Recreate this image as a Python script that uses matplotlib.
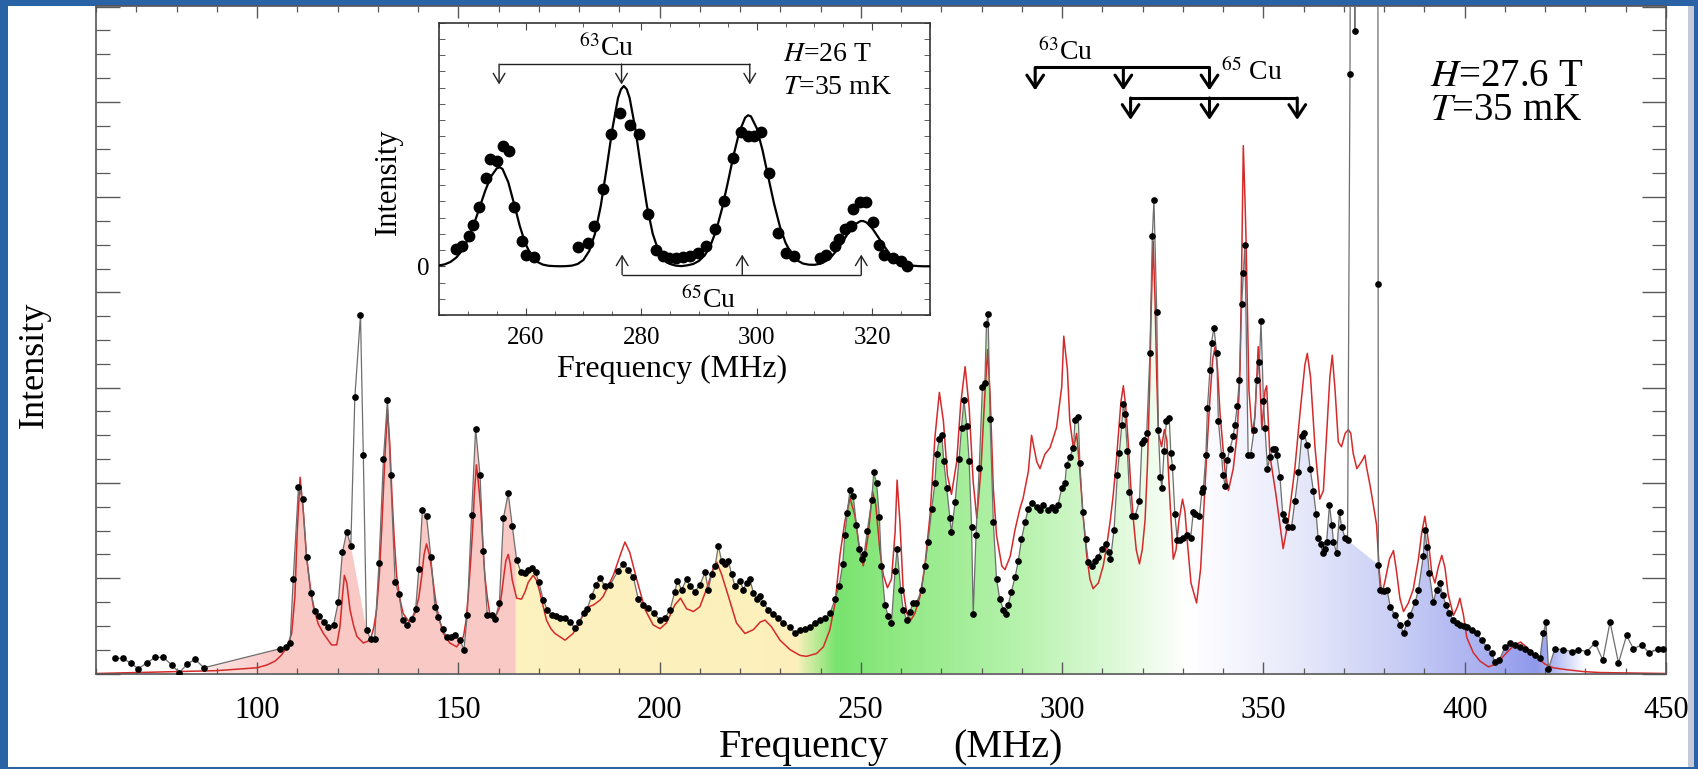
import matplotlib.pyplot as plt
import numpy as np
from matplotlib.patches import Polygon, Rectangle
from matplotlib.ticker import MultipleLocator, FixedLocator

plt.rcParams['font.family'] = ['Liberation Serif', 'DejaVu Serif']
plt.rcParams['mathtext.fontset'] = 'stix'

# ---- main spectrum, H = 27.6 T (measured points) ----
main_freq = [
    64.7, 66.6, 68.6, 70.5, 72.6, 74.7, 76.7, 78.8, 80.7, 82.7,
    84.6, 86.8, 105.7, 107.2, 108.2, 109.0, 110.3, 111.3, 112.3, 113.3,
    114.4, 115.5, 116.6, 117.7, 119.0, 120.2, 121.2, 122.3, 123.3, 124.3,
    125.7, 126.4, 127.2, 128.2, 129.2, 130.3, 131.4, 132.4, 133.2, 134.3,
    135.3, 136.2, 137.2, 138.4, 139.4, 140.2, 141.1, 142.1, 143.2, 144.2,
    145.0, 146.1, 147.1, 148.2, 149.2, 150.4, 151.4, 152.2, 153.3, 154.3,
    155.4, 156.2, 157.2, 158.3, 159.1, 160.2, 161.2, 162.4, 163.4, 164.5,
    165.5, 166.6, 167.4, 168.2, 169.2, 170.0, 171.1, 172.1, 173.2, 174.3,
    175.3, 176.5, 177.7, 178.9, 180.0, 181.1, 182.0, 183.1, 184.2, 185.2,
    186.4, 187.7, 189.7, 191.0, 192.2, 193.5, 194.7, 196.0, 197.2, 198.6,
    200.1, 201.3, 202.6, 203.8, 204.4, 205.5, 206.7, 207.5, 208.8, 210.0,
    211.3, 212.1, 212.9, 213.8, 214.6, 215.4, 216.2, 217.1, 217.9, 218.7,
    220.0, 220.8, 221.6, 222.4, 223.3, 224.1, 225.0, 225.8, 227.0, 228.2,
    229.5, 230.7, 232.4, 233.6, 234.9, 236.1, 237.3, 238.6, 239.8, 241.1,
    242.3, 243.6, 244.6, 245.5, 246.0, 246.6, 247.3, 248.1, 248.9, 249.6,
    250.2, 250.8, 251.6, 252.7, 253.2, 253.9, 254.6, 255.1, 256.0, 256.8,
    257.6, 258.5, 259.0, 259.9, 260.5, 261.4, 262.2, 263.0, 263.8, 265.1,
    265.9, 266.7, 267.6, 268.4, 268.8, 269.5, 270.1, 270.6, 271.3, 272.1,
    272.5, 273.4, 274.4, 275.0, 275.6, 276.3, 276.9, 277.5, 277.9, 278.6,
    279.4, 280.2, 280.8, 281.2, 281.6, 282.1, 282.9, 283.7, 284.5, 285.4,
    286.0, 286.6, 287.4, 288.3, 289.1, 289.9, 290.8, 291.6, 292.4, 293.7,
    294.5, 295.3, 296.5, 297.4, 298.2, 299.0, 299.9, 300.7, 301.1, 301.9,
    302.8, 303.2, 304.0, 304.4, 305.1, 305.8, 306.5, 307.3, 308.1, 309.0,
    309.8, 310.9, 311.7,
    312.0, 312.9, 313.7, 314.2, 314.8, 315.2, 315.6, 316.2, 316.7, 317.3,
    318.1, 319.2, 319.8, 320.3, 321.0, 321.8, 322.4, 322.8, 323.5, 323.9,
    324.4, 324.8, 325.3, 325.9, 326.6, 327.0, 327.4, 328.0, 328.6, 329.3,
    330.1, 331.1, 331.9, 332.6, 333.0, 334.1, 334.7, 335.1, 335.7, 336.1,
    336.7, 337.1, 337.7, 338.4, 338.8, 339.6, 340.0, 340.5, 341.0, 341.7,
    342.5, 342.9, 343.5, 344.0, 344.6, 345.0, 345.4, 346.2, 346.8, 347.7,
    348.3, 349.0, 349.4, 350.0, 350.4, 351.0, 351.6, 352.3, 352.9, 353.3,
    354.1, 354.8, 355.4, 356.2, 357.0, 357.8, 358.7, 359.5, 360.1, 360.9,
    361.6, 362.4, 363.1, 363.6, 364.2, 364.7, 365.3, 365.7, 366.4, 367.0,
    367.4, 368.2, 368.9, 369.4, 370.3, 370.9,
    371.5, 372.0, 372.7, 372.9, 378.3, 378.5,
    378.55, 379.0, 379.9, 380.7, 381.5, 382.7, 384.0, 384.8, 385.6, 386.4,
    387.7, 388.5, 389.7, 390.1, 390.6, 391.2, 392.2, 393.0, 393.9, 394.5,
    395.4, 396.2, 397.2, 398.0, 398.8, 399.7, 400.5, 401.7, 403.0, 404.2,
    405.5, 406.7, 407.5, 408.6, 410.0, 411.3, 412.5, 413.7, 415.0, 416.2,
    417.5, 418.7, 419.5, 420.2, 420.8, 422.4, 424.5, 426.6, 428.2, 430.3,
    432.4, 434.3, 436.1, 438.2, 440.2, 441.9, 444.0, 445.9, 447.9, 449.3,
]
main_int = [
    0.16, 0.16, 0.11, 0.05, 0.11, 0.17, 0.17, 0.09, 0.01, 0.10,
    0.15, 0.06, 0.26, 0.28, 0.32, 0.99, 1.96, 1.83, 1.22, 0.85,
    0.66, 0.60, 0.54, 0.49, 0.51, 0.75, 1.27, 1.49, 1.34, 2.90,
    3.76, 2.29, 0.46, 0.36, 0.36, 1.16, 2.25, 2.87, 2.08, 0.96,
    0.83, 0.56, 0.51, 0.57, 0.68, 1.10, 1.72, 1.65, 1.22, 0.70,
    0.59, 0.47, 0.38, 0.38, 0.40, 0.35, 0.25, 0.61, 1.66, 2.57,
    2.08, 1.29, 0.61, 0.61, 0.57, 0.74, 1.63, 1.89, 1.55, 1.19,
    1.07, 1.05, 1.09, 1.11, 1.06, 0.96, 0.77, 0.67, 0.61, 0.60,
    0.58, 0.58, 0.54, 0.48, 0.54, 0.63, 0.68, 0.81, 0.93, 1.00,
    0.92, 0.93, 1.08, 1.15, 1.09, 1.01, 0.78, 0.72, 0.69, 0.63,
    0.56, 0.58, 0.67, 0.86, 0.97, 0.88, 0.99, 0.92, 0.86, 0.93,
    1.06, 0.88, 1.04, 1.13, 1.34, 1.18, 1.15, 1.18, 1.04, 0.92,
    0.97, 0.88, 0.95, 0.99, 0.85, 0.78, 0.81, 0.74, 0.67, 0.62,
    0.58, 0.53, 0.49, 0.42, 0.46, 0.47, 0.49, 0.53, 0.56, 0.58,
    0.63, 0.78, 0.92, 1.15, 1.45, 1.68, 1.93, 1.86, 1.56, 1.31,
    1.20, 1.25, 1.50, 1.82, 2.11, 2.00, 1.64, 1.13, 0.72, 0.60,
    0.53, 1.08, 1.31, 0.88, 0.67, 0.56, 0.65, 0.74, 0.74, 0.88,
    1.13, 1.38, 1.73, 2.00, 2.30, 2.46, 2.50, 2.23, 1.95, 1.63,
    1.48, 1.80, 2.25, 2.58, 2.87, 2.60, 2.23, 1.54, 0.62, 1.45,
    2.16, 3.01, 3.05, 3.67, 3.77, 2.67, 1.59, 0.99, 0.78, 0.67,
    0.62, 0.72, 0.86, 1.01, 1.18, 1.41, 1.59, 1.73, 1.79, 1.75,
    1.72, 1.77, 1.72, 1.75, 1.72, 1.77, 1.95, 2.00, 2.19, 2.27,
    2.37, 2.66, 2.69, 2.21, 1.70, 1.41, 1.17, 1.13, 1.18, 1.22,
    1.31, 1.36, 1.27,
    1.20, 1.51, 2.08, 2.31, 2.61, 2.83, 2.72, 2.33, 1.90, 1.65,
    1.65, 1.81, 2.42, 2.45, 2.52, 3.36, 4.59, 4.97, 3.79, 2.56,
    2.06, 1.95, 2.33, 2.65, 2.68, 2.31, 2.17, 1.67, 1.40, 1.40,
    1.42, 1.45, 1.42, 1.70, 1.67, 1.65, 1.90, 1.95, 2.29, 2.79,
    3.18, 3.47, 3.63, 3.36, 2.65, 2.29, 2.08, 1.97, 2.24, 2.36,
    2.49, 2.61, 2.81, 3.08, 3.88, 4.20, 4.50, 2.29, 2.29, 2.56,
    3.08, 3.27, 3.70, 2.86, 2.58, 2.15, 2.27, 2.36, 2.36, 2.29,
    2.06, 1.67, 1.61, 1.54, 1.54, 1.81, 2.11, 2.49, 2.52, 2.40,
    2.15, 1.92, 1.67, 1.42, 1.36, 1.26, 1.31, 1.38, 1.77, 1.56,
    1.38, 1.26, 1.70, 1.54, 1.42, 1.40,
    6.29, 14.0, 6.74, 14.0, 14.0, 4.09,
    1.14, 0.88, 0.87, 0.88, 0.70, 0.61, 0.51, 0.42, 0.53, 0.61,
    0.75, 0.88, 1.23, 1.51, 1.33, 1.05, 0.75, 0.88, 0.95, 0.82,
    0.72, 0.63, 0.56, 0.53, 0.51, 0.50, 0.49, 0.46, 0.42, 0.35,
    0.28, 0.21, 0.12, 0.14, 0.28, 0.32, 0.30, 0.28, 0.26, 0.23,
    0.19, 0.16, 0.42, 0.54, 0.05, 0.26, 0.25, 0.23, 0.25, 0.23,
    0.32, 0.14, 0.54, 0.11, 0.40, 0.26, 0.30, 0.21, 0.26, 0.26,
]

# ---- simulated spectrum (red) ----
sim_freq = [
    60.0, 70.0, 80.0, 90.0, 100.0, 102.5, 104.5, 106.0, 107.5, 108.6,
    109.4, 110.0, 110.7, 111.5, 112.3, 113.2, 114.0, 115.2, 116.5, 118.5,
    119.8, 120.6, 121.2, 121.7, 122.3, 123.1, 124.0, 124.8, 126.4, 128.1,
    129.0, 129.7, 130.4, 131.0, 131.8, 132.4, 133.0, 133.5, 134.1, 134.7,
    135.5, 136.3, 137.8, 139.2, 140.2, 140.9, 141.5, 142.1, 142.8, 143.4,
    144.0, 144.6, 145.4, 146.3, 147.9, 149.6, 151.3, 151.9, 152.5, 153.1,
    153.6, 154.0, 154.5, 155.0, 155.6, 156.1, 156.6, 157.2, 157.8, 159.1,
    160.3, 160.8, 161.3, 161.8, 162.4, 162.9, 163.4, 164.5, 165.7, 166.6,
    167.4, 168.6, 169.4, 170.1, 171.0, 171.9, 173.0, 174.0, 176.5, 178.5,
    180.0, 181.1, 182.4, 183.6, 185.2,
    186.0, 188.5, 190.2, 191.4, 192.6, 194.3, 196.4, 198.4, 200.1, 201.7,
    203.8, 205.2, 206.7, 208.4, 210.0, 211.7, 213.3, 214.2, 215.4, 217.1,
    219.1, 221.2, 223.3, 225.0, 226.2, 227.8, 229.9, 232.4, 234.9, 236.5,
    239.0, 240.7, 242.3, 243.6, 244.8, 246.0, 247.3, 248.5, 249.8, 250.6,
    251.8, 252.9, 253.7, 254.7, 255.6, 256.6, 257.6, 258.5, 259.0, 259.7,
    260.5, 261.4, 262.4, 263.4, 264.7, 265.9, 267.2, 268.4, 269.5, 270.5,
    271.5, 272.5, 273.8, 274.8, 275.9, 276.9, 277.9, 278.8, 279.8, 280.8,
    281.5, 282.1, 282.9, 283.7, 285.0, 285.8, 287.1, 288.3, 289.5, 290.3,
    291.6, 292.4, 293.7, 294.5, 295.7, 297.0, 298.6, 299.9, 300.4, 301.3,
    301.9, 302.8, 303.6, 304.4, 305.2, 306.1, 306.9, 307.7, 309.0, 310.2,
    311.1,
    312.0, 312.7, 313.4, 314.0, 314.6, 315.2, 315.8, 316.4, 317.0, 317.7,
    318.4, 319.2, 319.9, 320.6, 321.2, 321.7, 322.1, 322.6, 323.1, 323.5,
    323.9, 324.7, 325.4, 326.0, 326.8, 327.6, 328.3, 329.0, 329.9, 330.5,
    331.1, 332.0, 333.4, 334.4, 335.5, 336.1, 336.7, 337.4, 338.0, 338.6,
    339.2, 340.4, 341.3, 342.5, 343.5, 344.2, 344.6, 345.0, 345.4, 345.7,
    346.4, 347.2, 347.9, 348.7, 349.2, 349.6, 350.4, 350.8, 351.6, 353.1,
    354.1, 354.9, 356.2, 357.8, 359.1, 360.3, 360.9, 361.7, 362.8, 364.0,
    364.9, 365.7, 366.5, 367.1, 367.8, 368.6, 369.4, 370.3, 371.1, 371.7,
    372.3, 373.2, 374.0, 374.6, 375.2, 375.6, 376.5, 377.3, 378.1, 378.8,
    379.4, 380.2, 381.3, 382.3, 383.1, 383.9, 384.8, 386.0, 387.2, 388.5,
    389.3, 390.1, 391.0, 391.8, 392.6, 393.4, 394.3, 395.1, 395.9, 397.2,
    398.2, 398.8, 399.7, 400.5, 402.1, 403.8, 405.9, 407.9, 410.0, 412.1,
    413.9, 415.8, 417.9, 419.9, 422.0, 425.3, 429.5, 433.6, 450.0,
]
sim_int = [
    0.00, 0.01, 0.02, 0.03, 0.06, 0.09, 0.13, 0.19, 0.28, 0.42,
    0.80, 1.50, 2.06, 1.70, 1.23, 0.92, 0.70, 0.52, 0.42, 0.30,
    0.30, 0.49, 0.80, 1.03, 0.95, 0.67, 0.50, 0.39, 0.32, 0.35,
    0.48, 0.67, 1.05, 1.54, 2.30, 2.77, 2.40, 1.89, 1.40, 1.02,
    0.78, 0.63, 0.54, 0.63, 0.80, 1.02, 1.25, 1.36, 1.25, 1.09,
    0.88, 0.70, 0.55, 0.42, 0.32, 0.28, 0.39, 0.55, 0.84, 1.20,
    1.54, 1.90, 2.19, 2.00, 1.72, 1.35, 1.02, 0.80, 0.63, 0.58,
    0.70, 0.85, 1.02, 1.18, 1.25, 1.15, 0.98, 0.79, 0.78, 0.86,
    0.96, 1.03, 0.98, 0.88, 0.72, 0.56, 0.47, 0.42, 0.35, 0.42,
    0.52, 0.63, 0.70, 0.72, 0.77,
    0.81, 1.03, 1.24, 1.38, 1.27, 0.99, 0.67, 0.51, 0.47, 0.53,
    0.72, 0.79, 0.68, 0.65, 0.70, 0.89, 1.10, 1.17, 1.04, 0.81,
    0.53, 0.42, 0.46, 0.54, 0.56, 0.49, 0.35, 0.25, 0.19, 0.18,
    0.21, 0.28, 0.46, 0.74, 1.24, 1.59, 1.84, 1.66, 1.27, 1.13,
    1.45, 1.91, 1.77, 1.30, 1.03, 0.90, 0.99, 1.48, 2.03, 1.59,
    0.89, 0.63, 0.56, 0.63, 0.81, 1.13, 1.67, 2.48, 2.95, 2.65,
    2.08, 1.88, 2.22, 2.83, 3.22, 2.79, 2.01, 1.63, 2.12, 2.93,
    3.40, 2.93, 1.94, 1.45, 1.13, 1.09, 1.23, 1.51, 1.73, 1.84,
    2.12, 2.50, 2.22, 2.15, 2.30, 2.37, 2.58, 3.01, 3.54, 3.19,
    2.65, 2.36, 2.52, 2.12, 1.66, 1.24, 0.99, 0.89, 0.95, 1.13,
    1.35,
    1.62, 1.88, 2.20, 2.52, 2.85, 3.02, 2.80, 2.43, 2.00, 1.61,
    1.30, 1.15, 1.30, 1.61, 2.20, 2.97, 3.80, 4.54, 3.88, 3.10,
    2.52, 2.38, 2.56, 2.45, 1.80, 1.20, 1.30, 1.60, 1.83, 1.70,
    1.38, 0.95, 0.74, 1.10, 1.97, 2.45, 2.88, 3.30, 3.43, 3.20,
    2.74, 2.15, 1.92, 2.15, 2.52, 3.20, 4.30, 5.54, 5.00, 4.52,
    2.97, 2.52, 2.70, 3.43, 3.00, 2.56, 2.97, 3.02, 2.29, 1.88,
    1.56, 1.31, 1.61, 2.15, 2.74, 3.24, 3.36, 3.11, 2.38, 1.83,
    1.92, 2.52, 3.11, 3.34, 2.97, 2.43, 2.38, 2.52, 2.56, 2.52,
    2.31, 2.15, 2.20, 2.24, 2.29, 2.17, 1.97, 1.77, 1.56, 1.06,
    0.83, 0.97, 1.20, 1.29, 1.06, 0.79, 0.65, 0.74, 0.88, 1.20,
    1.47, 1.65, 1.38, 1.06, 0.95, 1.11, 1.24, 1.11, 0.83, 0.61,
    0.70, 0.79, 0.61, 0.38, 0.22, 0.13, 0.07, 0.10, 0.20, 0.29,
    0.33, 0.26, 0.17, 0.10, 0.06, 0.04, 0.02, 0.01, 0.00,
]

# ---- inset, H = 26 T ----
inset_freq = [
    247.9, 248.9, 250.2, 250.9, 252.0, 253.1, 253.9, 255.0, 256.1, 257.1,
    258.0, 259.4, 260.1, 261.5, 269.1, 270.8, 271.8, 273.4, 274.8, 276.3,
    278.1, 279.7, 281.2, 282.6, 283.8, 284.9, 286.1, 287.2, 288.4, 289.8,
    291.3, 292.7, 294.3, 295.9, 297.3, 298.5, 299.6, 300.8, 302.1, 303.7,
    305.1, 306.5, 310.9, 312.0, 313.5, 314.3, 315.2, 316.3, 316.6, 317.8,
    318.9, 320.1, 321.2, 322.1, 323.6, 325.0, 326.1,
]
inset_int = [
    1.07, 1.23, 1.85, 2.57, 3.66, 5.45, 6.63, 6.48, 7.41, 7.10,
    3.66, 1.54, 0.72, 0.58, 1.19, 1.44, 2.51, 4.73, 8.13, 9.47,
    8.68, 8.13, 3.19, 0.99, 0.66, 0.51, 0.51, 0.58, 0.66, 0.82,
    1.23, 2.30, 4.01, 6.69, 8.27, 8.02, 8.02, 8.27, 5.76, 2.06,
    0.82, 0.62, 0.51, 0.72, 1.23, 1.69, 2.30, 2.47, 3.54, 3.95,
    3.95, 2.72, 1.34, 0.72, 0.51, 0.31, 0.00,
]
inset_fit_freq = [
    245, 246, 247, 248, 249, 250, 251, 252, 253, 254, 255, 255.5, 256, 257,
    258, 259, 260, 261, 262, 263, 264, 265, 266, 267, 268, 269, 270, 271,
    272, 273, 274, 275, 276, 276.5, 277, 277.5, 278, 279, 280, 281, 282,
    283, 284, 285, 286, 287, 288, 289, 290, 291, 292, 293, 294, 295, 296,
    297, 298, 298.5, 299, 300, 301, 302, 303, 304, 305, 306, 307, 308, 309,
    310, 311, 312, 313, 314, 315, 316, 317, 318, 318.5, 319, 320, 321, 322,
    323, 324, 325, 326, 327, 328, 329, 330,
]
inset_fit_int = [
    0.05, 0.12, 0.27, 0.54, 0.98, 1.65, 2.54, 3.59, 4.65, 5.53, 6.03, 6.10, 5.99, 5.17,
    3.84, 2.46, 1.36, 0.65, 0.27, 0.10, 0.03, 0.01, 0.00, 0.01, 0.04, 0.14, 0.39, 0.94,
    2.00, 3.71, 5.99, 8.44, 10.37, 10.90, 11.10, 10.90, 10.37, 8.44, 5.99, 3.71, 2.00,
    0.94, 0.39, 0.14, 0.04, 0.01, 0.06, 0.14, 0.33, 0.67, 1.28, 2.23, 3.55, 5.16, 6.84,
    8.28, 9.15, 9.30, 9.23, 8.51, 7.16, 5.50, 3.86, 2.47, 1.44, 0.77, 0.37, 0.17, 0.10,
    0.09, 0.16, 0.33, 0.62, 1.05, 1.58, 2.14, 2.58, 2.79, 2.78, 2.70, 2.34, 1.81, 1.26,
    0.78, 0.43, 0.22, 0.10, 0.04, 0.01, 0.00, 0.00,
]

# line positions for the Cu quadrupole combs
cu63_main = [293.3, 315.2, 336.6]
cu65_main = [317.0, 336.6, 358.4]
cu63_inset = [255.4, 276.6, 298.8]
cu65_inset = [276.7, 297.5, 318.1]

W, H = 1699, 769
BLUE = '#2a62a6'


def px(x, y):
    return x / W, 1 - y / H


def comb(ax, xs, ybar, ytip, lw, ms, hl, hw, color):
    ax.plot([xs[0], xs[-1]], [ybar, ybar], color=color, lw=lw,
            solid_capstyle='butt', zorder=6)
    for xv in xs:
        ax.annotate('', xy=(xv, ytip), xytext=(xv, ybar), zorder=6,
                    arrowprops=dict(arrowstyle=f'->,head_length={hl},head_width={hw}',
                                    lw=lw, color=color, shrinkA=0, shrinkB=0,
                                    mutation_scale=ms))


fig = plt.figure(figsize=(W / 100, H / 100), dpi=100, facecolor=BLUE)
fig.add_artist(Rectangle(px(8, 767), 1680 / W, 761 / H, transform=fig.transFigure,
                         facecolor='white', edgecolor='none', zorder=-2))
fig.add_artist(Rectangle(px(1688, 767), 6 / W, 761 / H, transform=fig.transFigure,
                         facecolor='#c4cbd6', edgecolor='none', zorder=-2))

ax = fig.add_axes([96 / W, 95.5 / H, 1570 / W, 667 / H])
ax.set_facecolor('white')

f = np.array(main_freq)
a = np.array(main_int)

# coloured band under the measured points (spikes bridged)
keep = ~(((f > 123.8) & (f < 127.0)) | ((f > 371.2) & (f < 378.52)))
ff, aa = f[keep], a[keep]
verts = [(ff[0], 0)] + list(zip(ff, aa)) + [(ff[-1], 0)]
band = Polygon(verts, closed=True, facecolor='none', edgecolor='none')
ax.add_patch(band)

stops = [60, 85, 88, 104, 164.0, 164.4, 234, 244, 256, 290, 315, 331, 338,
         360, 385, 405, 418, 423, 430, 450]
cols = [(1, 1, 1), (1, 1, 1), (0.99, 0.90, 0.89), (0.98, 0.79, 0.78),
        (0.98, 0.79, 0.78), (0.99, 0.95, 0.75), (0.99, 0.94, 0.74),
        (0.47, 0.89, 0.43), (0.55, 0.91, 0.50), (0.72, 0.95, 0.68),
        (0.88, 0.98, 0.86), (1, 1, 1), (0.98, 0.98, 1.0), (0.90, 0.91, 0.98),
        (0.78, 0.80, 0.96), (0.66, 0.69, 0.94), (0.56, 0.60, 0.92),
        (0.72, 0.75, 0.96), (1, 1, 1), (1, 1, 1)]
gx = np.linspace(60, 450, 1561)
rgb = np.stack([np.interp(gx, stops, [c[i] for c in cols]) for i in range(3)], axis=-1)
im = ax.imshow(rgb[np.newaxis, :, :], extent=[60, 450, 0, 7], aspect='auto',
               interpolation='bilinear', origin='lower', zorder=1)
im.set_clip_path(band)

ax.plot(sim_freq, sim_int, color='#d42a2a', lw=1.1, zorder=2)
ax.plot(f, a, color='#6e6e6e', lw=0.9, zorder=3)
ax.plot(f, a, 'o', ms=3.8, color='black', zorder=4)

ax.set_xlim(60, 450)
ax.set_ylim(0, 7)
ax.xaxis.set_major_locator(MultipleLocator(50))
ax.xaxis.set_minor_locator(MultipleLocator(10))
ax.yaxis.set_major_locator(MultipleLocator(1))
ax.yaxis.set_minor_locator(MultipleLocator(0.25))
ax.tick_params(which='both', direction='in', top=True, right=True,
               color='#5a5a5a', labelleft=False)
ax.tick_params(axis='x', which='major', length=8.6, width=1.0, labelsize=22, pad=16)
ax.tick_params(axis='x', which='minor', length=4.3, width=0.9)
ax.tick_params(axis='y', which='major', length=17, width=1.0)
ax.tick_params(axis='y', which='minor', length=10, width=0.9)
for s in ax.spines.values():
    s.set_color('#555555')
    s.set_linewidth(1.2)

comb(ax, cu63_main, 6.36, 6.12, 2.2, 20, 0.45, 0.3, 'black')
comb(ax, cu65_main, 6.04, 5.81, 2.2, 20, 0.45, 0.3, 'black')
ax.text(294.0, 6.44, r'$^{63}$Cu', fontsize=20, ha='left', va='baseline')
ax.text(339.5, 6.23, r'$^{65}$ Cu', fontsize=20, ha='left', va='baseline')
ax.text(391.5, 6.165, r'$H$=27.6 T', fontsize=28, ha='left', va='baseline')
ax.text(391.5, 5.81, r'$T$=35 mK', fontsize=28, ha='left', va='baseline')

fig.text(*px(34, 365), 'Intensity', rotation=90, ha='center', va='center', fontsize=26)
fig.text(*px(719, 757), 'Frequency', fontsize=29, ha='left', va='baseline')
fig.text(*px(953, 757), '(MHz)', fontsize=29, ha='left', va='baseline')

# ---- inset ----
axi = fig.add_axes([439 / W, 454 / H, 491 / W, 292.3 / H], zorder=5)
axi.set_facecolor('white')
axi.plot(inset_fit_freq, inset_fit_int, color='black', lw=1.6, zorder=3)
axi.plot(inset_freq, inset_int, 'o', ms=7.5, color='black', zorder=4)
axi.set_xlim(245, 330)
axi.set_ylim(-3, 15)
axi.xaxis.set_major_locator(FixedLocator([260, 280, 300, 320]))
axi.xaxis.set_minor_locator(MultipleLocator(5))
axi.yaxis.set_major_locator(FixedLocator([0]))
axi.yaxis.set_minor_locator(MultipleLocator(1))
axi.tick_params(which='both', direction='in', top=True, right=True, color='#444444')
axi.tick_params(axis='x', which='major', length=5, labelsize=18, pad=9)
axi.tick_params(axis='x', which='minor', length=3)
axi.tick_params(axis='y', which='both', length=4, labelsize=18, pad=7)
for s in axi.spines.values():
    s.set_color('#333333')
    s.set_linewidth(1.2)

comb(axi, cu63_inset, 12.45, 11.2, 1.0, 14, 0.5, 0.3, '#222222')
comb(axi, cu65_inset, -0.51, 0.72, 1.0, 14, 0.5, 0.3, '#222222')
axi.text(269.2, 12.94, r'$^{63}$Cu', fontsize=20, ha='left', va='baseline')
axi.text(286.9, -2.55, r'$^{65}$Cu', fontsize=20, ha='left', va='baseline')
axi.text(304.5, 12.65, r'$H$=26 T', fontsize=20, ha='left', va='baseline')
axi.text(304.5, 10.6, r'$T$=35 mK', fontsize=20, ha='left', va='baseline')

fig.text(*px(388, 182), 'Intensity', rotation=90, ha='center', va='center', fontsize=22)
fig.text(*px(672, 377), 'Frequency (MHz)', ha='center', va='baseline', fontsize=23)

fig.savefig('out.png', dpi=100, facecolor=BLUE)
